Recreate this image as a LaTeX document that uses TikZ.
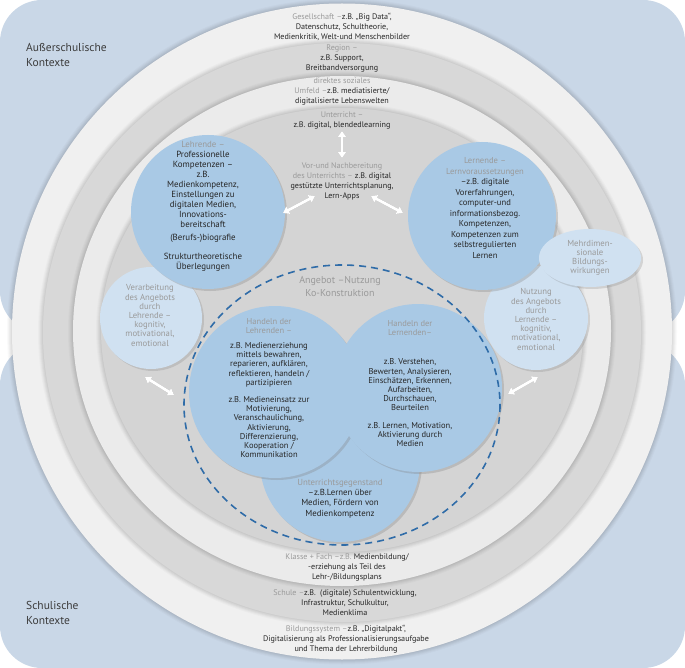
\documentclass[tikz,border=0pt]{standalone}
\usepackage{fontspec}
\setmainfont{PT Sans}
\usetikzlibrary{arrows.meta,shadows,shapes.geometric}
\definecolor{bgblue}{HTML}{C9D7E7}
\definecolor{ringA}{HTML}{F0F0F0}
\definecolor{ringB}{HTML}{D8D8D8}
\definecolor{ringC}{HTML}{EBEBEB}
\definecolor{ringD}{HTML}{D4D4D4}
\definecolor{cblue}{HTML}{A9C9E5}
\definecolor{clight}{HTML}{D0E1F1}
\definecolor{dashblue}{HTML}{2F6CA8}
\definecolor{txtdark}{HTML}{262626}
\definecolor{txtgray}{HTML}{9A9A9A}
\newcommand\gr[1]{\textcolor{txtgray}{#1}}
\newcommand\fsA{\fontsize{8.1}{10}\selectfont}
\newcommand\fsB{\fontsize{8.5}{9.2}\selectfont}
\newcommand\softdisk[4]{% x radius, y radius, colour, center
  \foreach \d/\o in {5/0.02,4/0.025,3/0.03,2/0.03,1/0.035}{
    \fill[black, opacity=\o] (#4) ellipse [x radius=#1+\d, y radius=#2+\d];
  }
  \fill[#3] (#4) ellipse [x radius=#1, y radius=#2];
}
\tikzset{
  lbl/.style={align=center, text=txtdark, inner sep=0pt, font=\fsA},
  glbl/.style={align=center, text=txtgray, inner sep=0pt, font=\fsB},
  bigc/.style={circle, fill=cblue, inner sep=0pt, drop shadow={shadow xshift=2pt, shadow yshift=-2pt, opacity=0.3}},
  smallc/.style={circle, fill=clight, inner sep=0pt, drop shadow={shadow xshift=2pt, shadow yshift=-2pt, opacity=0.25}},
  arrsh/.style={line width=2.8pt, draw=black!35, {Triangle[width=8pt,length=6pt]}-{Triangle[width=8pt,length=6pt]}},
  arrw/.style={line width=2.8pt, draw=white, {Triangle[width=8pt,length=6pt]}-{Triangle[width=8pt,length=6pt]}},
  ctx/.style={align=left, anchor=west, text=txtdark!90, inner sep=0pt, font=\fontsize{11.5}{15}\selectfont}
}
\begin{document}
\begin{tikzpicture}[x=1pt,y=-1pt]
\useasboundingbox (0,0) rectangle (685,668);
% background blobs
\fill[bgblue, rounded corners=42pt] (0,0) rectangle (685,333);
\fill[bgblue, rounded corners=42pt] (0,343) rectangle (685,668);
% rings
\softdisk{330}{328}{ringA}{342,331.5}
\softdisk{299}{289.5}{ringB}{342,332.5}
\softdisk{269}{255}{ringC}{342,331}
\softdisk{241}{222}{ringD}{342,330}
% context labels
\node[ctx] (aussen) at (26,55) {Außerschulische\\Kontexte};
\node[ctx] (schul) at (26,613) {Schulische\\Kontexte};
% ring texts
\node[lbl] (gesell) at (342,27) {\gr{Gesellschaft –}z.B. „Big Data“,\\Datenschutz, Schultheorie,\\Medienkritik, Welt-und Menschenbilder};
\node[lbl] (region) at (342,58) {\gr{Region –}\\z.B. Support,\\Breitbandversorgung};
\node[lbl] (umfeld) at (342,91) {\gr{direktes soziales}\\\gr{Umfeld –}z.B. mediatisierte/\\digitalisierte Lebenswelten};
\node[lbl] (unterricht) at (342,120) {\gr{Unterricht –}\\z.B. digital, blendedlearning};
\node[lbl] (vorbereit) at (342,181) {\gr{Vor-und Nachbereitung}\\\gr{des Unterrichts –} z.B. digital\\gestützte Unterrichtsplanung,\\Lern-Apps};
\node[lbl] (klasse) at (347,567) {\gr{Klasse + Fach –z.B.} Medienbildung/\\-erziehung als Teil des\\Lehr-/Bildungsplans};
\node[lbl] (schule) at (345,603) {\gr{Schule –}z.B.~ (digitale) Schulentwicklung,\\Infrastruktur, Schulkultur,\\Medienklima};
\node[lbl] (bildsys) at (346,639.5) {\gr{Bildungssystem –}z.B. „Digitalpakt“,\\Digitalisierung als Professionalisierungsaufgabe\\und Thema der Lehrerbildung};
% small light circles
\node[smallc, minimum size=102pt] (verarbC) at (151,318) {};
\node[smallc, minimum size=104pt] (nutzC) at (536,318) {};
\node[glbl, font=\fontsize{8.7}{9.2}\selectfont] (verarb) at (150,315.5) {Verarbeitung\\des Angebots\\durch\\Lehrende –\\kognitiv,\\motivational,\\emotional};
\node[glbl, font=\fontsize{8.7}{9.2}\selectfont] (nutz) at (536,319.5) {Nutzung\\des Angebots\\durch\\Lernende –\\kognitiv,\\motivational,\\emotional};
% upper big circles
\node[bigc, minimum size=154pt] (lehrC) at (208,212) {};
\node[bigc, minimum size=148pt] (lernC) at (482,216) {};
\node[lbl, font=\fontsize{8.9}{10}\selectfont] (lehr) at (203,206) {\gr{Lehrende –}\\Professionelle\\Kompetenzen –\\z.B.\\Medienkompetenz,\\Einstellungen zu\\digitalen Medien,\\Innovations-\\bereitschaft\\[3pt](Berufs-)biografie\\[9pt]Strukturtheoretische\\Überlegungen};
\node[lbl, font=\fontsize{8.6}{10.5}\selectfont] (lern) at (485,208) {\gr{Lernende –}\\\gr{Lernvoraussetzungen}\\–z.B. digitale\\Vorerfahrungen,\\computer-und\\informationsbezog.\\Kompetenzen,\\Kompetenzen zum\\selbstregulierten\\Lernen};
% Mehrdimensionale ellipse
\node[ellipse, fill=clight, minimum width=102pt, minimum height=58pt, inner sep=0pt, drop shadow={shadow xshift=2pt, shadow yshift=-2pt, opacity=0.25}] (mehrC) at (590,258) {};
\node[glbl, font=\fontsize{8.7}{9}\selectfont] (mehr) at (590,257.5) {Mehrdimen-\\sionale\\Bildungs-\\wirkungen};
% center circles
\node[bigc, minimum size=160pt] (gegenC) at (340,462) {};
\node[bigc, minimum size=172pt] (hlehrC) at (275,392) {};
\node[bigc, minimum size=168pt] (hlernC) at (418,388) {};
\node[lbl, font=\fontsize{8.8}{10.3}\selectfont] (gegen) at (340,498.5) {\gr{Unterrichtsgegenstand}\\–z.B.Lernen über\\Medien, Fördern von\\Medienkompetenz};
\node[lbl, font=\fsB] (hlehr) at (269,388) {\gr{Handeln der}\\\gr{Lehrenden –}\\[6pt]z.B. Medienerziehung\\mittels bewahren,\\reparieren, aufklären,\\reflektieren, handeln /\\partizipieren\\[8pt]z.B. Medieneinsatz zur\\Motivierung,\\Veranschaulichung,\\Aktivierung,\\Differenzierung,\\Kooperation /\\Kommunikation};
\node[lbl, font=\fsB] (hlern) at (410,383.5) {\gr{Handeln der}\\\gr{Lernenden–}\\[20pt]z.B. Verstehen,\\Bewerten, Analysieren,\\Einschätzen, Erkennen,\\Aufarbeiten,\\Durchschauen,\\Beurteilen\\[8pt]z.B. Lernen, Motivation,\\Aktivierung durch\\Medien};
% dashed ellipse
\draw[dashblue, line width=1.6pt, dash pattern=on 7pt off 5pt] (342,405) ellipse [x radius=158, y radius=140];
\node[glbl, font=\fontsize{10}{13}\selectfont] (angebot) at (340,286.5) {Angebot –Nutzung\\Ko-Konstruktion};
% arrows
\coordinate (a1s) at (342,131); \coordinate (a1e) at (342,158);
\coordinate (a2s) at (283,213); \coordinate (a2e) at (315,196);
\coordinate (a3s) at (371,196); \coordinate (a3e) at (403,213);
\coordinate (a4s) at (145,377); \coordinate (a4e) at (174,395);
\coordinate (a5s) at (508,394); \coordinate (a5e) at (538,377);
\foreach \s/\e in {a1s/a1e,a2s/a2e,a3s/a3e,a4s/a4e,a5s/a5e}{
  \draw[arrsh, xshift=1pt, yshift=-1pt] (\s) -- (\e);
  \draw[arrw] (\s) -- (\e);
}
\end{tikzpicture}
\end{document}
